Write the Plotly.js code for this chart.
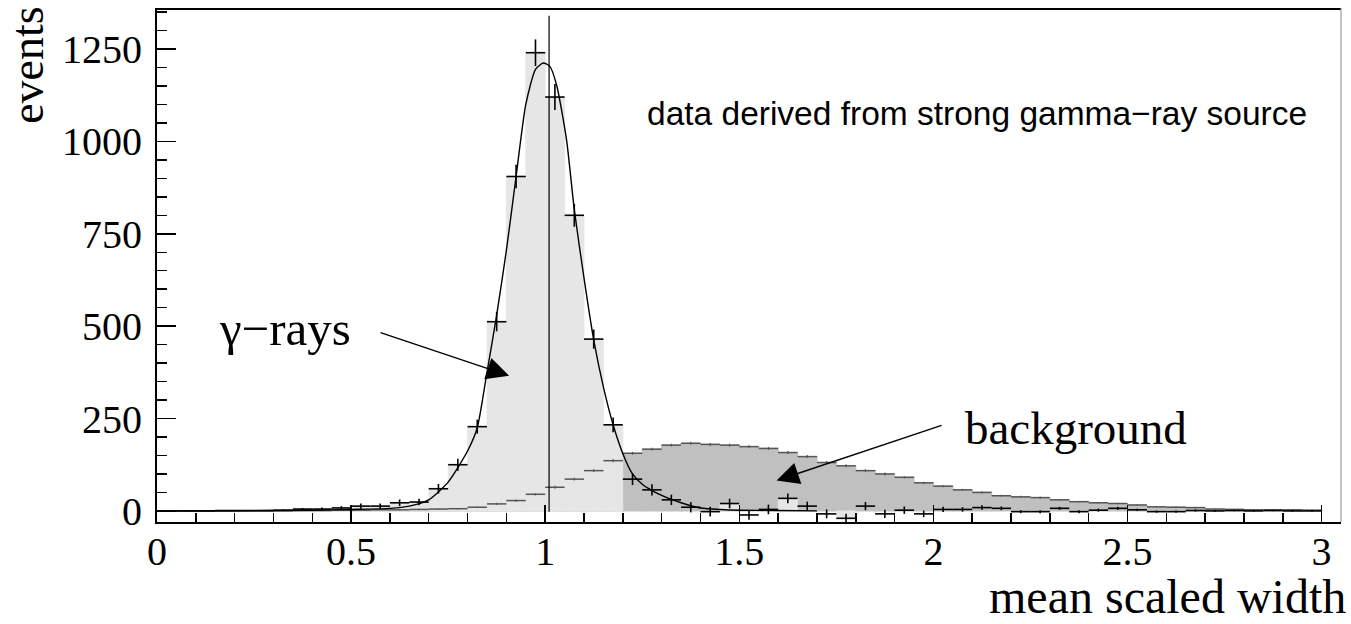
<!DOCTYPE html>
<html>
<head>
<meta charset="utf-8">
<script src="https://cdn.plot.ly/plotly-3.0.1.min.js"></script>
<style>html,body{margin:0;padding:0;background:#fff;}#chart{width:1351px;height:624px;}</style>
</head>
<body>
<div id="chart"></div>
<script>
// ---- data (bin width 0.05) ----
const binCenters = [0.025,0.075,0.125,0.175,0.225,0.275,0.325,0.375,0.425,0.475,
  0.525,0.575,0.625,0.675,0.725,0.775,0.825,0.875,0.925,0.975,
  1.025,1.075,1.125,1.175,1.225,1.275,1.325,1.375,1.425,1.475,
  1.525,1.575,1.625,1.675,1.725,1.775,1.825,1.875,1.925,1.975,
  2.025,2.075,2.125,2.175,2.225,2.275,2.325,2.375,2.425,2.475,
  2.525,2.575,2.625,2.675,2.725,2.775,2.825,2.875,2.925,2.975];

// gamma-ray excess (crosses)
const gammaData = [0,0,0,1,1,1,2,5,5,8,
  13,13,22,24,60,125,228,512,905,1240,
  1120,800,465,233,86,57,30,10,-2,20,
  -11,4,34,13,-8,-20,13,-8,2,-8,
  4,4,9,7,-2,-2,7,-2,2,7,
  3,-2,-2,1,0,1,0,1,0,0];
const gammaErr = [0,0,0,1,1,1,2,3,4,5,
  7,7,9,9,13,16,19,26,32,36,
  35,31,26,20,16,15,14,14,13,13,
  13,13,13,12,12,12,11,11,10,9,
  7,6,6,5,4,4,4,4,4,4,
  3,3,3,3,2,2,2,2,2,2];

// light grey filled histogram
const gammaFill = [0,0,0,1,1,1,2,5,5,8,
  13,13,22,24,60,125,228,512,905,1240,
  1120,800,465,233,null,null,null,null,null,20,
  null,null,34,null,null,-20,null,null,null,null,
  null,null,null,null,null,null,null,null,null,null,
  null,null,null,null,null,null,null,null,null,null];

// background (dark grey histogram + dashes)
const bgData = [0,0,0,0,0,0,0,1,1,2,
  2,3,3,4,5,6,10,19,28,45,
  64,86,109,136,156,167,178,183,180,178,
  174,169,158,147,131,122,109,100,91,76,
  67,57,50,41,38,36,30,25,22,20,
  16,11,10,9,5,4,3,3,3,2];
const bgErr = [0,0,0,0,0,0,0,1,1,1,
  1,1,1,2,2,2,2,3,3,3,
  4,4,4,4,4,4,4,4,4,4,
  4,4,4,4,4,4,4,4,3,3,
  3,3,3,3,3,3,2,2,2,2,
  2,2,2,2,1,1,1,1,1,1];

// fitted curve, points
const fitX = [0,0.2,0.4,0.5,0.6,0.65,0.7,0.75,0.8,0.825,0.85,0.875,0.9,0.925,0.95,0.975,0.995,1.012,1.03,1.055,1.075,1.1,1.125,1.15,1.175,1.2,1.225,1.25,1.275,1.3,1.325,1.35,1.375,1.4,1.45,1.5,1.6,1.7];
const fitY = [0,0.5,2,4,7,13,30,78,162,225,375,530,705,905,1100,1195,1212,1203,1150,1004,815,630,463,335,233,155,100,72,55,42,31,22,14,8,4,2,1,0];

const refLine = 1.01;
const xTitle = "mean scaled width";
const yTitle = "events";
const note = "data derived from strong gamma\u2212ray source";
const gammaLabel = "\u03b3\u2212rays";
const bgLabel = "background";

const serif = "Liberation Serif, Times New Roman, serif";
const sans = "Liberation Sans, Arial, Helvetica, sans-serif";

const traces = [
  {type:'bar', x:binCenters, y:bgData, width:0.05, marker:{color:'#c0c0c0', line:{color:'#c0c0c0', width:1.2}}, hoverinfo:'skip'},
  {type:'bar', x:binCenters, y:gammaFill, width:0.05, marker:{color:'#e6e6e6', line:{color:'#e6e6e6', width:0.8}}, hoverinfo:'skip'},
  {type:'scatter', mode:'markers', x:binCenters, y:bgData, marker:{size:1, color:'rgba(0,0,0,0)'},
    error_x:{type:'constant', value:0.025, width:0, thickness:1.5, color:'#555'},
    error_y:{type:'data', array:bgErr, width:0, thickness:1.2, color:'#555'}},
  {type:'scatter', mode:'lines', x:fitX, y:fitY, line:{color:'black', width:1.4, shape:'spline', smoothing:0.6}},
  {type:'scatter', mode:'markers', x:binCenters, y:gammaData, marker:{size:1, color:'rgba(0,0,0,0)'},
    error_x:{type:'constant', value:0.025, width:0, thickness:1.6, color:'black'},
    error_y:{type:'data', array:gammaErr, width:0, thickness:1.6, color:'black'}}
];

const layout = {
  width:1351, height:624,
  margin:{l:157, r:10, t:8, b:102},
  paper_bgcolor:'white', plot_bgcolor:'white',
  showlegend:false, barmode:'overlay', bargap:0,
  font:{family:serif, color:'black'},
  xaxis:{range:[0,3.05], tick0:0, dtick:0.5, ticks:'inside', ticklen:17, tickwidth:1.5, tickcolor:'black',
    minor:{dtick:0.1, ticks:'inside', ticklen:9, tickwidth:1.5, tickcolor:'black', showgrid:false},
    showgrid:false, zeroline:false, showline:true, linewidth:2, linecolor:'black',
    tickfont:{family:serif, size:40, color:'black'}, ticklabelstandoff:-7},
  yaxis:{range:[-30,1361], tick0:0, dtick:250, ticks:'inside', ticklen:19, tickwidth:1.5, tickcolor:'black',
    minor:{dtick:50, ticks:'inside', ticklen:10, tickwidth:1.5, tickcolor:'black', showgrid:false},
    showgrid:false, zeroline:false, showline:true, linewidth:2, linecolor:'black',
    tickfont:{family:serif, size:40, color:'black'}, ticklabelstandoff:5},
  shapes:[
    {type:'line', xref:'paper', yref:'paper', x0:0, x1:1, y0:0.998, y1:0.998, line:{color:'black', width:2}, layer:'above'},
    {type:'line', xref:'paper', yref:'paper', x0:1, x1:1, y0:0, y1:1, line:{color:'#888', width:1}, layer:'above'},
    {type:'line', xref:'x', yref:'paper', x0:refLine, x1:refLine, y0:0.02, y1:0.985, line:{color:'black', width:1.2}, layer:'above'}
  ],
  annotations:[
    {xref:'x', yref:'y', x:2.113, y:1075, text:note, showarrow:false, xanchor:'center', yanchor:'middle', font:{family:sans, size:33.5, color:'black'}},
    {xref:'x', yref:'y', x:0.3296, y:495, text:gammaLabel, showarrow:false, xanchor:'center', yanchor:'middle', font:{family:serif, size:49, color:'black'}},
    {xref:'x', yref:'y', x:2.368, y:224, text:bgLabel, showarrow:false, xanchor:'center', yanchor:'middle', font:{family:serif, size:47, color:'black'}},
    {xref:'x', yref:'y', axref:'x', ayref:'y', x:0.907, y:366, ax:0.572, ay:484, text:'', showarrow:true, arrowhead:2, arrowsize:3.2, arrowwidth:1.4, arrowcolor:'black', standoff:0, startstandoff:0},
    {xref:'x', yref:'y', axref:'x', ayref:'y', x:1.596, y:82, ax:2.025, ay:233, text:'', showarrow:true, arrowhead:2, arrowsize:3.2, arrowwidth:1.4, arrowcolor:'black', standoff:0, startstandoff:0},
    {xref:'paper', yref:'paper', x:1.006, y:-0.144, text:xTitle, showarrow:false, xanchor:'right', yanchor:'middle', font:{family:serif, size:48, color:'black'}},
    {xref:'paper', yref:'paper', x:-0.11, y:0.889, text:yTitle, textangle:-90, showarrow:false, xanchor:'center', yanchor:'middle', font:{family:serif, size:46, color:'black'}}
  ]
};

Plotly.newPlot('chart', traces, layout, {staticPlot:true, displayModeBar:false});
</script>
</body>
</html>
